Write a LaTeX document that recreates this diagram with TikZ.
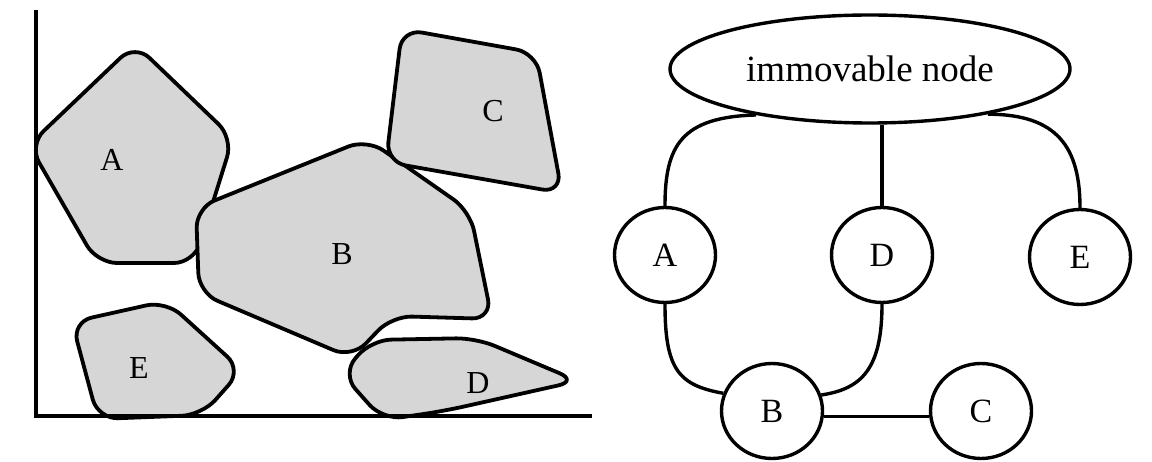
\documentclass[tikz,border=0pt]{standalone}
\usepackage{fontspec}
\setmainfont{Liberation Serif}
\usetikzlibrary{shapes.geometric}
\begin{document}
\begin{tikzpicture}[x=1pt,y=-1pt,
  stone/.style={draw=black, line width=3.8pt, fill=black!16, rounded corners=20pt, line join=round},
  lbl/.style={font=\fontsize{32}{36}\selectfont, inner sep=0pt},
  axis/.style={line width=4pt},
  vert/.style={draw, ellipse, line width=3.4pt, minimum width=101pt, minimum height=95pt, inner sep=0pt, font=\fontsize{34}{38}\selectfont},
  link/.style={line width=3.4pt}]
\useasboundingbox (0,0) rectangle (1152,462);

% ---- stones resting against the wall and floor ----
\draw[stone] (29,145) -- (135,44) -- (233,138) -- (194,263) -- (97,263) -- cycle;
\draw[stone] (196,208) -- (367,139) -- (470,211) -- (492,319) -- (392,316) -- (352,358) -- (199,293) -- cycle;
\draw[stone] (402,29) -- (536,53) -- (562,193) -- (386,162) -- cycle;
\draw[stone] (342,374) -- (371,340) -- (476,338) -- (578,381) -- (444,411) -- (383,420) -- cycle;
\draw[stone] (72,322) -- (166,301) -- (242,370) -- (202,415) -- (98,419) -- cycle;

\node[lbl] (la) at (112,160) {A};
\node[lbl] (lb) at (342,254) {B};
\node[lbl] (lc) at (493,111) {C};
\node[lbl] (ld) at (478,383) {D};
\node[lbl] (le) at (139,368) {E};

% ---- wall and floor ----
\coordinate (top) at (36,10);
\coordinate (corner) at (36,418);
\coordinate (right) at (592,416);
\draw[axis] (top) -- (corner);
\draw[axis] (36,416) -- (right);

% ---- support graph ----
\node[draw, ellipse, line width=3.4pt, minimum width=400pt, minimum height=108pt, inner sep=0pt,
      font=\fontsize{37}{42}\selectfont] (imm) at (870,69) {immovable node};
\node[vert] (A) at (665,255) {A};
\node[vert] (D) at (882,255) {D};
\node[vert] (E) at (1080,257) {E};
\node[vert] (B) at (772,411) {B};
\node[vert] (C) at (981,411) {C};

\draw[link] (imm.202) .. controls +(-75,2) and +(0,-60) .. (A.north);
\draw[link] (D.north) -- (D.north |- imm.south);
\draw[link] (imm.-21) .. controls +(70,0) and +(0,-60) .. (E.north);
\draw[link] (A.south) .. controls +(0,65) and +(-45,-8) .. (B.160);
\draw[link] (D.south) .. controls +(0,65) and +(40,-6) .. (B.18);
\draw[link] (B.-6) -- (C.186);
\end{tikzpicture}
\end{document}
